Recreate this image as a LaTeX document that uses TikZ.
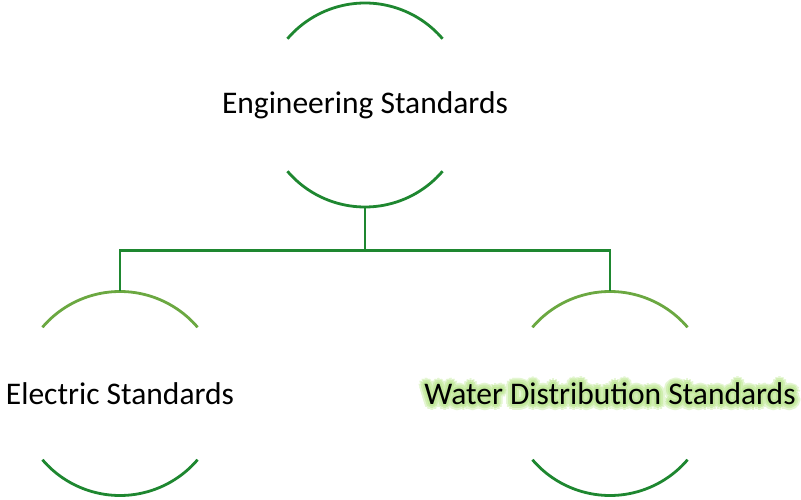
\documentclass[tikz,border=0pt]{standalone}
\usepackage{fontspec}
\setmainfont{Carlito}
\definecolor{dg}{HTML}{1E8730}
\definecolor{lg}{HTML}{6BA841}
\definecolor{glowa}{HTML}{E4F6D2}
\definecolor{glowb}{HTML}{D0EEB0}
\definecolor{glowc}{HTML}{C2E89C}
\tikzset{
  ring/.style={circle, minimum size=204pt, inner sep=0pt, draw=none},
  lbl/.style={inner sep=0pt, font=\fontsize{31.5}{36}\selectfont, text=black},
  glowlbl/.style={inner sep=0pt, font=\fontsize{31.5}{36}\selectfont},
  darc/.style={draw=dg, line width=2.8pt},
  larc/.style={draw=lg, line width=2.8pt},
  conn/.style={draw=dg, line width=2.8pt}
}
\begin{document}
\begin{tikzpicture}[x=1pt,y=1pt]
\useasboundingbox (0,0) rectangle (801,499);
% rings (invisible circles holding the arcs)
\node[ring] (engc) at (365,394) {};
\node[ring] (elecc) at (120,105.5) {};
\node[ring] (waterc) at (610,105.5) {};
% arcs
\draw[darc] ([shift={(40.5:102pt)}]engc.center) arc (40.5:139.5:102pt);
\draw[darc] ([shift={(220.5:102pt)}]engc.center) arc (220.5:319.5:102pt);
\draw[larc] ([shift={(40.5:102pt)}]elecc.center) arc (40.5:139.5:102pt);
\draw[darc] ([shift={(220.5:102pt)}]elecc.center) arc (220.5:319.5:102pt);
\draw[larc] ([shift={(40.5:102pt)}]waterc.center) arc (40.5:139.5:102pt);
\draw[darc] ([shift={(220.5:102pt)}]waterc.center) arc (220.5:319.5:102pt);
% connectors
\coordinate (bus) at ([yshift=-43pt]engc.south);
\draw[conn] (engc.south) -- (bus);
\draw[conn] (bus) -| (elecc.north);
\draw[conn] (bus) -| (waterc.north);
% glow
\foreach \r/\c in {6/glowa,4/glowb,2/glowc}{
  \foreach \a in {0,30,...,330}{
    \node[glowlbl, text=\c] at ([shift={(\a:\r pt)}]waterc.center) {Water Distribution Standards};
  }
}
% labels
\node[lbl] (eng) at (engc.center) {Engineering Standards};
\node[lbl] (elec) at (elecc.center) {Electric Standards};
\node[lbl] (water) at (waterc.center) {Water Distribution Standards};
\end{tikzpicture}
\end{document}
